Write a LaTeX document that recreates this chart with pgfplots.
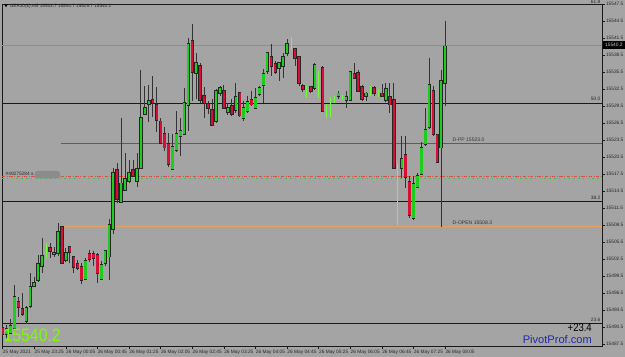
\documentclass[border=0pt]{standalone}
\usepackage{pgfplots}
\pgfplotsset{compat=1.18}
\usepackage{pgfplotstable}
\usepackage{fontspec}
\setmainfont{Liberation Sans}

\definecolor{bg}{RGB}{164,164,164}
\definecolor{bullc}{RGB}{30,205,30}
\definecolor{bearc}{RGB}{215,15,55}
\definecolor{dojic}{RGB}{110,255,60}
\definecolor{bidline}{RGB}{130,142,162}
\definecolor{ppline}{RGB}{50,90,220}
\definecolor{openline}{RGB}{232,160,95}
\definecolor{ordred}{RGB}{215,80,80}
\definecolor{ordgreen}{RGB}{80,185,80}
\definecolor{bigtxt}{RGB}{124,252,0}
\definecolor{pivblue}{RGB}{30,40,175}
\definecolor{blurbox}{RGB}{140,140,140}
\definecolor{tagtxt}{RGB}{200,200,200}

\newcommand{\tickfont}{\fontsize{3.6}{4.2}\selectfont}

\pgfplotsset{candle/.style={draw=none, no marks, forget plot, error bars/.cd, y dir=both, y explicit, error mark=none}}

\pgfplotstableread{
i O H L C
1 15489.3 15490.9 15488.6 15490.3
2 15489.6 15492.1 15489.3 15490.9
3 15490.3 15497.9 15489.8 15495.8
6 15491.7 15494.4 15491.2 15493.9
7 15494.2 15500.2 15494.0 15497.7
8 15497.9 15499.3 15497.6 15498.4
9 15498.8 15503.2 15498.4 15501.6
10 15501.4 15506.2 15500.0 15503.2
13 15503.6 15504.6 15502.9 15503.7
14 15503.6 15509.0 15503.2 15507.4
16 15502.3 15504.6 15502.0 15503.6
21 15499.2 15502.7 15499.0 15502.3
25 15499.0 15502.3 15498.8 15501.4
26 15501.8 15504.1 15501.4 15503.9
27 15503.0 15509.7 15498.8 15508.5
28 15508.0 15518.7 15507.1 15517.9
30 15512.6 15527.4 15512.4 15515.9
31 15514.9 15521.2 15514.7 15516.8
32 15516.3 15520.0 15515.9 15517.7
34 15516.3 15521.2 15515.2 15518.4
35 15518.7 15535.9 15518.6 15527.6
36 15528.3 15533.2 15528.1 15529.3
37 15529.9 15533.2 15526.7 15530.4
43 15518.4 15524.7 15518.2 15522.3
44 15521.9 15528.8 15521.6 15524.7
45 15524.4 15527.4 15520.7 15525.3
46 15524.7 15532.7 15524.6 15530.2
47 15529.9 15541.7 15525.3 15540.6
49 15535.3 15539.0 15530.9 15537.1
54 15526.9 15532.5 15526.5 15532.2
55 15531.8 15533.2 15531.4 15532.7
57 15528.6 15530.2 15528.1 15529.3
59 15528.8 15533.7 15528.4 15531.1
61 15527.4 15530.6 15527.0 15529.3
62 15528.8 15531.4 15528.4 15530.4
64 15529.3 15532.7 15529.2 15531.1
65 15531.8 15533.2 15531.4 15532.9
66 15533.4 15536.2 15530.2 15535.3
67 15535.7 15539.0 15535.3 15538.9
70 15536.2 15537.3 15534.1 15537.1
71 15536.7 15538.9 15534.6 15538.2
72 15538.9 15541.5 15538.5 15540.6
79 15532.7 15537.1 15532.3 15536.7
85 15531.3 15532.2 15530.9 15531.8
87 15530.7 15532.3 15529.3 15531.3
88 15530.7 15535.9 15530.6 15535.7
92 15531.3 15532.0 15530.4 15531.8
97 15530.7 15533.7 15530.4 15532.7
101 15518.7 15524.2 15516.8 15520.3
104 15509.9 15517.3 15509.6 15515.9
105 15515.4 15517.7 15515.2 15517.3
106 15517.7 15523.1 15517.3 15522.3
107 15522.8 15529.3 15522.6 15525.3
108 15525.8 15538.2 15525.6 15533.2
111 15522.3 15535.9 15508.2 15534.1
112 15533.7 15544.7 15529.7 15540.2
}\bulltab

\pgfplotstableread{
i O H L C
0 15490.3 15490.7 15489.1 15489.4
4 15494.9 15495.8 15492.3 15494.0
5 15493.7 15496.7 15492.6 15492.8
12 15504.4 15505.3 15502.7 15503.9
15 15508.3 15508.4 15501.8 15502.0
17 15504.6 15504.7 15502.0 15503.7
18 15503.0 15503.2 15500.2 15501.3
19 15501.6 15502.3 15500.6 15500.9
20 15501.3 15501.8 15498.1 15499.0
22 15503.4 15504.1 15502.0 15502.5
23 15503.4 15504.1 15501.4 15502.7
24 15503.2 15503.6 15498.3 15500.0
29 15518.4 15519.4 15512.4 15513.3
33 15518.4 15520.0 15517.0 15517.2
38 15530.7 15534.8 15527.6 15530.2
39 15529.9 15532.9 15524.9 15527.2
40 15526.9 15527.6 15523.0 15523.1
41 15524.7 15525.8 15521.7 15522.3
42 15522.8 15524.7 15518.7 15519.3
48 15541.2 15544.2 15530.6 15535.7
50 15536.7 15537.1 15530.2 15530.6
51 15531.3 15532.9 15527.4 15530.2
52 15529.9 15530.6 15528.3 15529.2
53 15528.8 15530.9 15526.2 15526.3
56 15532.2 15533.2 15529.2 15529.3
58 15529.7 15530.9 15527.9 15528.3
60 15531.8 15532.0 15527.6 15527.9
63 15530.7 15532.3 15529.7 15529.9
68 15538.2 15540.6 15535.0 15536.7
69 15537.1 15537.6 15535.3 15535.7
74 15539.7 15539.8 15536.7 15538.0
75 15538.3 15538.4 15533.2 15533.6
76 15533.2 15533.4 15532.0 15532.7
78 15532.9 15533.0 15532.0 15532.2
81 15536.2 15536.6 15528.5 15528.6
89 15535.3 15537.3 15534.4 15534.6
90 15535.3 15535.9 15532.0 15532.2
91 15532.9 15533.2 15530.4 15530.7
94 15532.7 15533.2 15531.4 15531.8
96 15531.8 15533.4 15531.1 15531.3
98 15531.3 15533.6 15528.3 15529.9
99 15530.7 15533.7 15518.4 15518.7
102 15520.9 15524.4 15515.2 15517.0
103 15516.3 15517.3 15509.9 15510.3
109 15532.3 15533.2 15524.4 15524.7
110 15524.4 15524.7 15519.5 15519.6
}\beartab

\pgfplotstableread{
i O H L C
11 15503.6 15505.3 15502.7 15503.6
73 15540.4 15541.7 15539.4 15540.4
77 15532.3 15533.2 15531.1 15532.3
80 15534.1 15535.9 15531.1 15534.1
82 15528.8 15530.0 15527.6 15528.8
83 15529.7 15531.1 15527.6 15529.7
84 15531.1 15531.4 15530.2 15531.1
86 15531.1 15531.6 15530.7 15531.1
93 15532.3 15533.2 15531.3 15532.3
95 15532.0 15532.7 15531.3 15532.0
100 15519.1 15519.4 15508.5 15519.1
}\dojitab

\begin{document}
\begin{tikzpicture}
\path[use as bounding box] (0,0) rectangle (468.75pt,267.75pt);
\fill[bg] (0,0) rectangle (468.75pt,267.75pt);
\begin{axis}[
  at={(1.5pt,8.25pt)}, anchor=south west,
  scale only axis, width=450pt, height=256.5pt,
  xmin=-0.15, xmax=151.7, ymin=15487.15, ymax=15547.55,
  axis line style={draw=black!90, line width=0.6pt},
  tick align=outside, major tick length=2.2pt,
  tick style={draw=black!90, line width=0.45pt},
  xtick pos=left, ytick pos=right, yticklabel pos=right,
  xtick={0,8,16,24,32,40,48,56,64,72,80,88,96,104,112},
  xticklabels={25 May 2021,25 May 23:25,26 May 00:05,26 May 00:45,26 May 01:25,26 May 02:05,26 May 02:45,26 May 03:25,26 May 04:05,26 May 04:45,26 May 05:25,26 May 06:05,26 May 06:45,26 May 07:25,26 May 08:05},
  xticklabel style={anchor=north west, inner sep=0.4pt, xshift=-0.3pt, font=\tickfont, text=black!85},
  ytick={15487.5,15490.5,15493.5,15496.5,15499.5,15502.5,15505.5,15508.5,15511.5,15514.5,15517.5,15520.5,15523.5,15526.5,15529.5,15532.5,15535.5,15538.5,15541.5,15544.5,15547.5},
  scaled y ticks=false,
  /pgf/number format/assume math mode=true,
  yticklabel style={anchor=west, inner sep=0.6pt, font=\tickfont, text=black!85, /pgf/number format/.cd, fixed, fixed zerofill, precision=1, 1000 sep={}},
]
% horizontal levels
\addplot[bidline, line width=0.5pt] coordinates {(-0.15,15540.2) (151.7,15540.2)};
\addplot[black!90, line width=0.6pt] coordinates {(-0.15,15530.05) (151.7,15530.05)};
\addplot[black!90, line width=0.6pt] coordinates {(-0.15,15512.7) (151.7,15512.7)};
\addplot[black!90, line width=0.6pt] coordinates {(-0.15,15491.2) (151.7,15491.2)};
\addplot[ppline, line width=0.6pt] coordinates {(14.8,15523.0) (151.7,15523.0)};
\addplot[openline, line width=0.75pt] coordinates {(14.8,15508.3) (151.7,15508.3)};
\addplot[ordgreen, line width=0.4pt, dash pattern=on 1.2pt off 2.4pt] coordinates {(-0.15,15516.8) (151.7,15516.8)};
\addplot[ordred, line width=0.75pt, dash pattern=on 2.6pt off 1.1pt on 0.7pt off 1.1pt] coordinates {(-0.15,15517.0) (151.7,15517.0)};
% wicks
\addplot[candle, error bar style={draw=black!80, line width=0.6pt}]
  table[x=i, y expr={(\thisrow{H}+\thisrow{L})/2}, y error expr={(\thisrow{H}-\thisrow{L})/2}] {\bulltab};
\addplot[candle, error bar style={draw=black!80, line width=0.6pt}]
  table[x=i, y expr={(\thisrow{H}+\thisrow{L})/2}, y error expr={(\thisrow{H}-\thisrow{L})/2}] {\beartab};
\addplot[candle, error bar style={draw=dojic, line width=0.65pt}]
  table[x=i, y expr={(\thisrow{H}+\thisrow{L})/2}, y error expr={(\thisrow{H}-\thisrow{L})/2}] {\dojitab};
% bodies: outline
\addplot[candle, error bar style={draw=black!85, line width=2.6pt}]
  table[x=i, y expr={(\thisrow{O}+\thisrow{C})/2}, y error expr={abs(\thisrow{C}-\thisrow{O})/2+0.17}] {\bulltab};
\addplot[candle, error bar style={draw=black!85, line width=2.6pt}]
  table[x=i, y expr={(\thisrow{O}+\thisrow{C})/2}, y error expr={abs(\thisrow{C}-\thisrow{O})/2+0.17}] {\beartab};
% bodies: fill
\addplot[candle, error bar style={draw=bullc, line width=1.7pt}]
  table[x=i, y expr={(\thisrow{O}+\thisrow{C})/2}, y error expr={abs(\thisrow{C}-\thisrow{O})/2}] {\bulltab};
\addplot[candle, error bar style={draw=bearc, line width=1.7pt}]
  table[x=i, y expr={(\thisrow{O}+\thisrow{C})/2}, y error expr={abs(\thisrow{C}-\thisrow{O})/2}] {\beartab};
\end{axis}
\begin{scope}[x=0.75pt,y=-0.75pt,yshift=267.75pt]
  \fill[black] (4,4.2) -- (8,4.2) -- (6,7.2) -- cycle;
  \node[anchor=base west, inner sep=0, font=\fontsize{3.5}{4}\selectfont, text=black!85] at (9.5,7.4) {GER30(€),M5 15533.7 15544.7 15529.7 15540.2};
  \node[anchor=south east, inner sep=0.3pt, font=\tickfont, text=black!85] at (601,3.8) {61.8};
  \node[anchor=south east, inner sep=0.3pt, font=\tickfont, text=black!85] at (601,101.5) {50.0};
  \node[anchor=south east, inner sep=0.3pt, font=\tickfont, text=black!85] at (601,200.5) {38.2};
  \node[anchor=south east, inner sep=0.3pt, font=\tickfont, text=black!85] at (601,322.5) {23.6};
  \node[anchor=south west, inner sep=0.3pt, font=\fontsize{3.8}{4.4}\selectfont, text=black!80] at (452,142.2) {D-PP 15523.0};
  \node[anchor=south west, inner sep=0.3pt, font=\fontsize{3.8}{4.4}\selectfont, text=black!80] at (452,225.7) {D-OPEN 15508.3};
  \node[anchor=south west, inner sep=0.3pt, font=\fontsize{3.6}{4.2}\selectfont, text=black!85] at (5,176.5) {\#49275284 s.};
  \fill[blurbox, rounded corners=1.5pt] (35,171) rectangle (60,178.5);
  \fill[black] (602.6,41) rectangle (625,49.5);
  \node[anchor=west, inner sep=0.3pt, font=\tickfont, text=tagtxt] at (604.5,45.3) {15540.2};
  \node[anchor=base west, inner sep=0, text=bigtxt, font=\fontsize{13.5}{14}\selectfont, xscale=0.88] at (3.3,341.7) {15540.2};
  \node[anchor=base east, inner sep=0, text=black, font=\fontsize{8.4}{9}\selectfont, xscale=0.85] at (592,332) {+23.4};
  \node[anchor=base east, inner sep=0, text=pivblue, font=\fontsize{8.3}{9}\selectfont] at (592,344) {PivotProf.com};
\end{scope}
\end{tikzpicture}
\end{document}
